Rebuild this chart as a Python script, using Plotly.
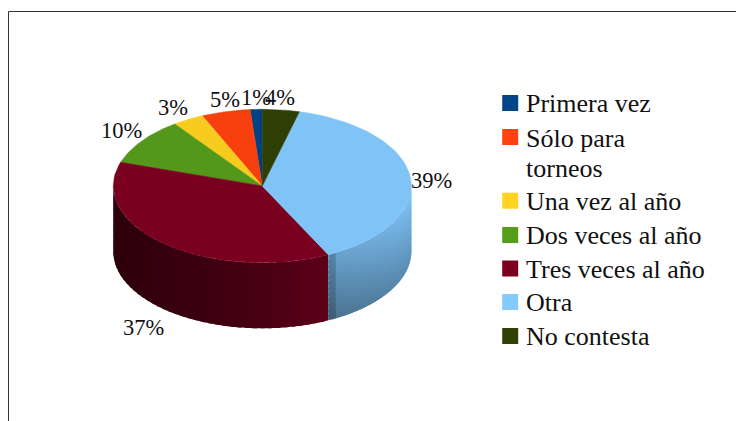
import numpy as np
import plotly.graph_objects as go

categories = ["Primera vez", "Sólo para torneos", "Una vez al año", "Dos veces al año",
              "Tres veces al año", "Otra", "No contesta"]
values = [1.3, 5.3, 3.4, 10.0, 37.3, 38.7, 4.0]
labels = ["1%", "5%", "3%", "10%", "37%", "39%", "4%"]
colors = ["#004586", "#ff420e", "#ffd320", "#579d1c", "#7e0021", "#83caff", "#314004"]

label_x = [256, 225, 172.5, 121.7, 143.7, 431, 280]
label_y = [97, 99, 107, 130, 327, 180, 97]

legend_swatch_y = [103, 137, 200.7, 235, 268.5, 302, 336]
legend_lines = ["Primera vez", "Sólo para", "torneos", "Una vez al año", "Dos veces al año",
                "Tres veces al año", "Otra", "No contesta"]
legend_line_y = [103, 138, 168, 201, 235, 269, 302, 336]

# pie geometry, in page pixels
cx, cy = 262.3, 186
rx, ry = 149, 76.7
depth = 65.6


def rim(angle):
    # angle in degrees, clockwise from 12 o'clock
    t = np.radians(angle)
    return cx + rx * np.sin(t), cy - ry * np.cos(t)


def shade(hex_color, f):
    rgb = [int(hex_color[i:i + 2], 16) for i in (1, 3, 5)]
    return "rgb(%d,%d,%d)" % tuple(min(255, c * f) for c in rgb)


def wall_shade(name, u, v):
    # u runs along the wall left to right, v runs down it
    if name == "Otra":
        edge = 0.82 if u < 0.04 else 1
        return (0.80 + 0.18 * u - 0.24 * v) * edge
    return 0.36 + 0.38 * u ** 2


fig = go.Figure()

# slices run counter-clockwise from 12 o'clock
ends = 360 - np.cumsum([0] + values) * 360 / sum(values)

# side walls, only the part that faces us (90 to 270 degrees)
# each cell runs a little into the next one so no seams show
for i, name in enumerate(categories):
    a0 = max(ends[i + 1], 90)
    a1 = min(ends[i], 270)
    if a0 >= a1:
        continue
    steps = np.linspace(a1, a0, 40)
    rows = np.linspace(0, 1, 13)
    for s0, s1 in zip(steps[:-1], steps[1:]):
        u = (a1 - (s0 + s1) / 2) / (a1 - a0)
        s_end = max(s1 - 1.5, a0)
        arc = np.linspace(s0, s_end, 6)
        xs, ys = rim(arc)
        for v0, v1 in zip(rows[:-1], rows[1:]):
            col = shade(colors[i], wall_shade(name, u, (v0 + v1) / 2))
            v_end = min(v1 + 0.04, 1)
            fig.add_trace(go.Scatter(
                x=np.r_[xs, xs[::-1]],
                y=np.r_[ys + v0 * depth, ys[::-1] + v_end * depth],
                mode="none", fill="toself", fillcolor=col,
                hoverinfo="skip", showlegend=False))

# top face
for i, name in enumerate(categories):
    xs, ys = rim(np.linspace(ends[i + 1], ends[i], 60))
    col = shade(colors[i], 0.97)
    fig.add_trace(go.Scatter(
        x=np.r_[cx, xs, cx], y=np.r_[cy, ys, cy],
        mode="lines", fill="toself", fillcolor=col, line=dict(color=col, width=0.5),
        name=name, hoverinfo="name", showlegend=False))

# hand-placed key, the rows are not evenly spaced
fig.add_trace(go.Scatter(
    x=[510.2] * len(categories), y=legend_swatch_y, mode="markers",
    text=categories, hoverinfo="text", showlegend=False,
    marker=dict(symbol="square", size=16, color=colors, line=dict(width=0))))

for text, y in zip(legend_lines, legend_line_y):
    fig.add_annotation(x=524, y=y, text=text, showarrow=False, xanchor="left",
                       font=dict(family="Liberation Serif", size=26, color="#111111"))

for text, x, y in zip(labels, label_x, label_y):
    fig.add_annotation(x=x, y=y, text=text, showarrow=False,
                       font=dict(family="Liberation Serif", size=22.5, color="#111111"))

# frame, left and top only
fig.add_shape(type="line", x0=8.5, x1=8.5, y0=421, y1=11.5, line=dict(color="#333333", width=1))
fig.add_shape(type="line", x0=8.5, x1=744, y0=11.5, y1=11.5, line=dict(color="#333333", width=1))

# the page body has an 8px margin, so the figure starts at (8, 8)
fig.update_layout(
    width=736,
    height=413,
    margin=dict(l=0, r=0, t=0, b=0),
    paper_bgcolor="#ffffff",
    plot_bgcolor="#ffffff",
    hovermode="closest",
    showlegend=False,
    xaxis=dict(range=[8, 744], visible=False, fixedrange=True),
    yaxis=dict(range=[421, 8], visible=False, fixedrange=True),
)

fig.write_html("out.html")
